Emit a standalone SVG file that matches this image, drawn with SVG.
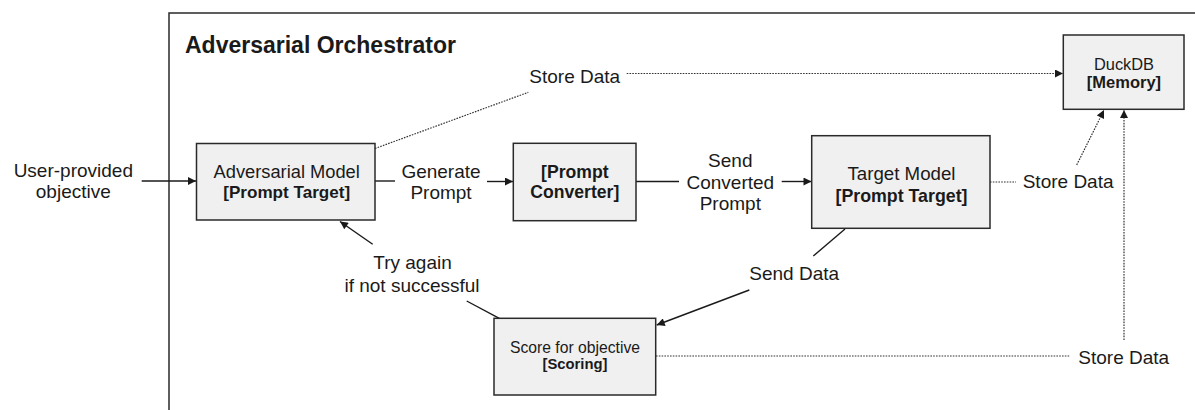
<svg xmlns="http://www.w3.org/2000/svg" width="1195" height="410" viewBox="0 0 1195 410">
  <style>
    text { font-family: "Liberation Sans", Arial, sans-serif; fill: #1a1a1a; }
    .lbl { font-size: 19px; }
    .title { font-size: 23px; font-weight: bold; }
    .box { fill: #f0f0f0; stroke: #2a2a2a; stroke-width: 1.5; }
    .solid { fill: none; stroke: #1a1a1a; stroke-width: 1.4; }
    .dot { fill: none; stroke: #333; stroke-width: 1.2; stroke-dasharray: 1.6 1.2; }
    .c { text-anchor: middle; }
    .b { font-weight: bold; }
  </style>
  <defs>
    <marker id="ah" viewBox="0 0 10 10" refX="10" refY="5" markerWidth="9" markerHeight="8" markerUnits="userSpaceOnUse" orient="auto">
      <path d="M0,0 L10,5 L0,10 z" fill="#1a1a1a"/>
    </marker>
  </defs>

  <g id="container">
    <path d="M1200,13 H169 V415" fill="none" stroke="#2a2a2a" stroke-width="1.5"/>
    <text class="title" x="185" y="52.7">Adversarial Orchestrator</text>
  </g>

  <g id="connectors">
    <path class="solid" d="M141.7,181 H196" marker-end="url(#ah)"/>
    <path class="solid" d="M375,181 H395"/>
    <path class="solid" d="M487,181.5 H513" marker-end="url(#ah)"/>
    <path class="solid" d="M636,181.5 H679"/>
    <path class="solid" d="M781.7,181.5 H811.5" marker-end="url(#ah)"/>
    <path class="dot" d="M990,182 H1016"/>
    <path class="dot" d="M1076.7,165 L1104,110" marker-end="url(#ah)"/>
    <path class="dot" d="M375,148.5 L528.3,92.3"/>
    <path class="dot" d="M626.7,73.5 H1063" marker-end="url(#ah)"/>
    <path class="solid" d="M845,229 L813.3,256"/>
    <path class="solid" d="M749.3,290 L656.7,325" marker-end="url(#ah)"/>
    <path class="solid" d="M499.3,318.3 L466.7,301"/>
    <path class="solid" d="M372.7,244.3 L340,221.5" marker-end="url(#ah)"/>
    <path class="dot" d="M656,356 H1070"/>
    <path class="dot" d="M1124,340 V110" marker-end="url(#ah)"/>
  </g>

  <g id="labels">
    <text class="lbl c" x="73.3" y="176.7">User-provided</text>
    <text class="lbl c" x="73.3" y="198">objective</text>
    <text class="lbl c" x="441" y="178">Generate</text>
    <text class="lbl c" x="441" y="198.5">Prompt</text>
    <text class="lbl c" x="730.3" y="166.7">Send</text>
    <text class="lbl c" x="730.3" y="188.5">Converted</text>
    <text class="lbl c" x="730.3" y="210">Prompt</text>
    <text class="lbl" x="529.3" y="82.7">Store Data</text>
    <text class="lbl" x="1022.7" y="188.3">Store Data</text>
    <text class="lbl" x="1078.3" y="364">Store Data</text>
    <text class="lbl c" x="412.5" y="269.3">Try again</text>
    <text class="lbl c" x="412" y="291.7">if not successful</text>
    <text class="lbl" x="749.3" y="280">Send Data</text>
  </g>

  <g id="adversarial-model">
    <rect class="box" x="196.5" y="143.5" width="178.5" height="76.5"/>
    <text class="c" x="286.7" y="178.3" font-size="18.3">Adversarial Model</text>
    <text class="c b" x="286.7" y="198.3" font-size="17.1">[Prompt Target]</text>
  </g>

  <g id="prompt-converter">
    <rect class="box" x="513.3" y="143.3" width="122.7" height="77.4"/>
    <text class="c b" x="574.8" y="178.3" font-size="17.6">[Prompt</text>
    <text class="c b" x="574.8" y="198.3" font-size="17.6">Converter]</text>
  </g>

  <g id="target-model">
    <rect class="box" x="811.7" y="135.7" width="178.3" height="92.6"/>
    <text class="c" x="901.5" y="179.5" font-size="18.7">Target Model</text>
    <text class="c b" x="901.5" y="201.5" font-size="17.8">[Prompt Target]</text>
  </g>

  <g id="duckdb">
    <rect class="box" x="1063.3" y="35" width="120.7" height="74.3"/>
    <text class="c" x="1124" y="70" font-size="16.4">DuckDB</text>
    <text class="c b" x="1124" y="88.3" font-size="16.5">[Memory]</text>
  </g>

  <g id="scoring">
    <rect class="box" x="494" y="318.3" width="161.7" height="76.7"/>
    <text class="c" x="575" y="353.3" font-size="15.7">Score for objective</text>
    <text class="c b" x="575" y="369.3" font-size="14.8">[Scoring]</text>
  </g>
</svg>
